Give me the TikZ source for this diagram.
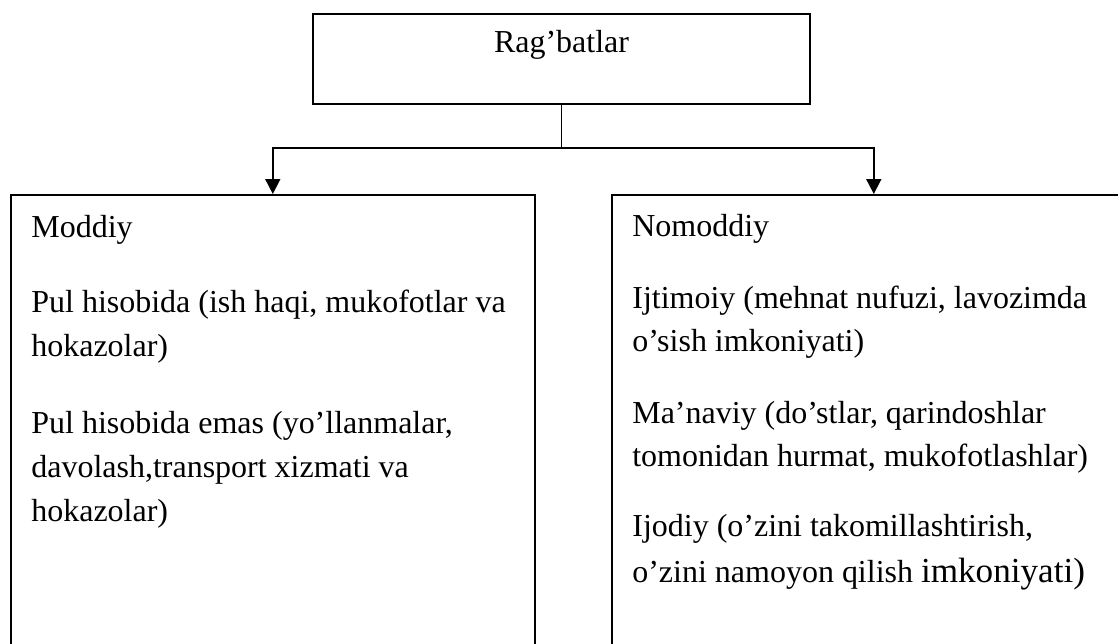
\documentclass[tikz,border=0pt]{standalone}
\usepackage{fontspec}
\setmainfont{Liberation Serif}
\usetikzlibrary{arrows.meta, positioning}
\tikzset{%
	top box/.style={
		draw,
		line width=1.4pt,
		minimum width=9.94cm,
		minimum height=1.8cm,
		text height=0.3cm,
		text depth=0.55cm,
		font=\fontsize{18.2}{25}\selectfont
	},
	kind box/.style={
		draw,
		line width=0.9pt,
		minimum width=10.48cm,
		minimum height=9.6cm,
		anchor=north west
	},
	% anchored at the baseline of the last line
	kind text/.style={
		anchor=base west,
		align=left,
		inner sep=0pt,
		font=\fontsize{18.2}{25}\selectfont
	},
	link/.style={line width=1pt},
	link arrow/.style={link, -{Triangle[width=8.5pt,length=8.5pt]}},
}
\begin{document}
\begin{tikzpicture}
	\useasboundingbox (0,0) rectangle (22.36,12.88);

	% Draw the top box
	\node[top box] (rag) at (11.23,11.7) {Rag’batlar};

	% Draw the two boxes below
	\node[kind box] (moddiy) at (0.2,9.0) {};
	\node[kind box] (nomoddiy) at (12.22,9.0) {};

	% Draw the arrows
	\coordinate[below=0.86cm of rag.south] (split);
	\draw[link] (rag.south) -- (split);
	\draw[link arrow] (split) -| (moddiy.north);
	\draw[link arrow] (split) -| (nomoddiy.north);

	% Texts of the left box
	\node[kind text] (moddiy title) at ([xshift=0.42cm,yshift=-0.87cm]moddiy.north west) {Moddiy};
	\node[kind text] (moddiy pul) at ([xshift=0.42cm,yshift=-3.25cm]moddiy.north west)
		{Pul hisobida (ish haqi, mukofotlar va\\hokazolar)};
	\node[kind text] (moddiy emas) at ([xshift=0.42cm,yshift=-6.55cm]moddiy.north west)
		{Pul hisobida emas (yo’llanmalar,\\davolash,transport xizmati va\\hokazolar)};

	% Texts of the right box
	\node[kind text] (nomoddiy title) at ([xshift=0.42cm,yshift=-0.85cm]nomoddiy.north west) {Nomoddiy};
	\node[kind text] (nomoddiy ijtimoiy) at ([xshift=0.42cm,yshift=-3.16cm]nomoddiy.north west)
		{Ijtimoiy (mehnat nufuzi, lavozimda\\o’sish imkoniyati)};
	\node[kind text] (nomoddiy manaviy) at ([xshift=0.42cm,yshift=-5.46cm]nomoddiy.north west)
		{Ma’naviy (do’stlar, qarindoshlar\\tomonidan hurmat, mukofotlashlar)};
	\node[kind text] (nomoddiy ijodiy) at ([xshift=0.42cm,yshift=-7.78cm]nomoddiy.north west)
		{Ijodiy (o’zini takomillashtirish,\\[1.5pt]o’zini namoyon qilish {\fontsize{20}{25}\selectfont imkoniyati)}};
\end{tikzpicture}
\end{document}
